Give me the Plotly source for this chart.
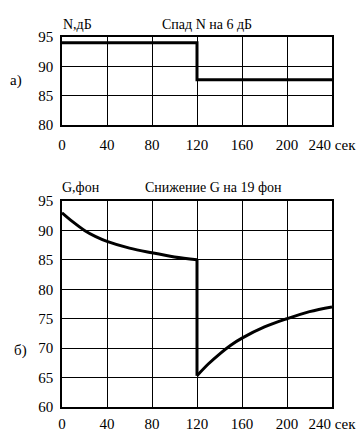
import plotly.graph_objects as go

W, H = 363, 440

# Data
t_N = [0, 120, 240]
N_vals = [94.0, 87.7, 87.7]

t_G1 = [0, 10, 20, 30, 40, 60, 80, 100, 120]
G1 = [93.0, 91.4, 90.0, 88.95, 88.15, 87.0, 86.2, 85.5, 85.0]
t_G2 = [120, 130, 140, 150, 160, 180, 200, 220, 240]
G2 = [65.3, 67.3, 69.0, 70.5, 71.7, 73.6, 75.0, 76.2, 77.0]

x_ticks = [0, 40, 80, 120, 160, 200, 240]
x_ticktext = ["0", "40", "80", "120", "160", "200", "240\u00a0сек"]
yN_ticks = [80, 85, 90, 95]
yG_ticks = [60, 65, 70, 75, 80, 85, 90, 95]


def px(x):
    return x / W


def py(y):
    return 1 - y / H


FONT = "Liberation Serif"
LW = 3

fig = go.Figure()
fig.add_trace(go.Scatter(x=t_N, y=N_vals, mode="lines", line=dict(color="black", width=LW, shape="hv"),
                         xaxis="x", yaxis="y", showlegend=False))
fig.add_trace(go.Scatter(x=t_G1, y=G1, mode="lines", line=dict(color="black", width=LW, shape="spline", smoothing=1.0),
                         xaxis="x2", yaxis="y2", showlegend=False))
fig.add_trace(go.Scatter(x=[t_G1[-1], t_G2[0]], y=[G1[-1], G2[0]], mode="lines", line=dict(color="black", width=LW),
                         xaxis="x2", yaxis="y2", showlegend=False))
fig.add_trace(go.Scatter(x=t_G2, y=G2, mode="lines", line=dict(color="black", width=LW, shape="spline", smoothing=1.0),
                         xaxis="x2", yaxis="y2", showlegend=False))

axis_common = dict(showgrid=True, gridcolor="black", gridwidth=1.3, showline=True, linecolor="black",
                   linewidth=1.5, mirror=True, zeroline=False, ticks="", automargin=False,
                   tickfont=dict(family=FONT, size=15, color="black"))

xdom = [px(62), px(332)]
fig.update_layout(
    width=W, height=H, margin=dict(l=0, r=0, t=0, b=0),
    paper_bgcolor="white", plot_bgcolor="white",
    xaxis=dict(domain=xdom, range=[0, 240], tickvals=x_ticks, ticktext=x_ticktext, anchor="y",
               ticklabelstandoff=5, **axis_common),
    yaxis=dict(domain=[py(125), py(37)], range=[80, 95], tickvals=yN_ticks, anchor="x", ticklabelstandoff=4, **axis_common),
    xaxis2=dict(domain=xdom, range=[0, 240], tickvals=x_ticks, ticktext=x_ticktext, anchor="y2",
                ticklabelstandoff=2, **axis_common),
    yaxis2=dict(domain=[py(407), py(201)], range=[60, 95], tickvals=yG_ticks, anchor="x2", ticklabelstandoff=4, **axis_common),
)


def ann(text, x, y, xanchor="center", size=14):
    fig.add_annotation(text=text, x=px(x), y=py(y), xref="paper", yref="paper", showarrow=False,
                       xanchor=xanchor, yanchor="middle", font=dict(family=FONT, size=size, color="black"))


ann("N,дБ", 61, 25, xanchor="left")
ann("Спад N на 6 дБ", 207, 25)
ann("а)", 16, 80, size=15)
ann("G,фон", 60, 187, xanchor="left")
ann("Снижение G на 19 фон", 213, 187)
ann("б)", 20, 350, size=15)

fig.write_html("out.html", config={"displayModeBar": False},
               post_script="document.body.style.margin='0';document.body.style.overflow='hidden';")
